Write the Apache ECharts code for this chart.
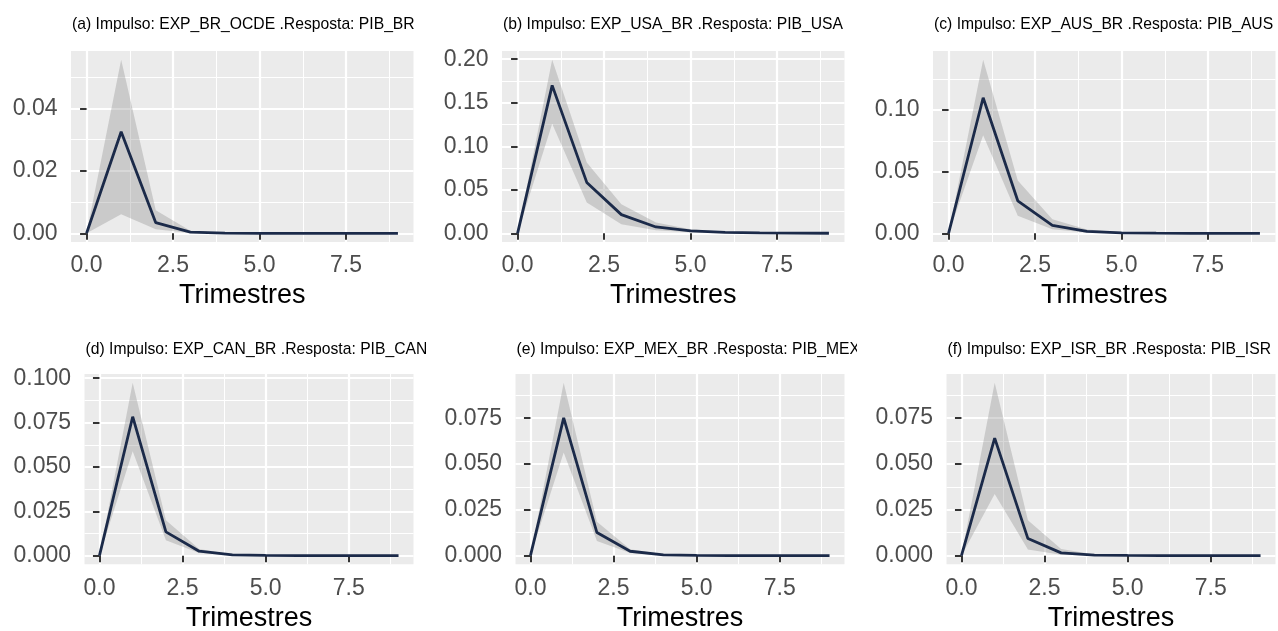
<!DOCTYPE html>
<html><head><meta charset="utf-8">
<script src="https://cdn.jsdelivr.net/npm/echarts@6/dist/echarts.min.js"></script>
<style>
html,body{margin:0;padding:0;background:#fff;width:1278px;height:631px;overflow:hidden}
.cell{position:absolute;overflow:hidden}
</style></head><body>
<div id="root"></div>
<script>
// ---------- data ----------
const horizons = [0, 1, 2, 3, 4, 5, 6, 7, 8, 9];
const xTicks = [0, 2.5, 5, 7.5];
const xMinorTicks = [1.25, 3.75, 6.25, 8.75];
const xAxisTitle = 'Trimestres';

const titles = [
  '(a) Impulso: EXP_BR_OCDE .Resposta: PIB_BR',
  '(b) Impulso: EXP_USA_BR .Resposta: PIB_USA',
  '(c) Impulso: EXP_AUS_BR .Resposta: PIB_AUS',
  '(d) Impulso: EXP_CAN_BR .Resposta: PIB_CAN',
  '(e) Impulso: EXP_MEX_BR .Resposta: PIB_MEX',
  '(f) Impulso: EXP_ISR_BR .Resposta: PIB_ISR'
];

const irfA   = [0, 0.0325, 0.0034, 0.0004, 0.00005, 0, 0, 0, 0, 0];
const lowerA = [0, 0.0061, 0.0013, 0.0001, 0, 0, 0, 0, 0, 0];
const upperA = [0, 0.0556, 0.0074, 0.0008, 0.0001, 0, 0, 0, 0, 0];

const irfB   = [0, 0.170, 0.0585, 0.0215, 0.0073, 0.0027, 0.0010, 0.0004, 0.00015, 0.00005];
const lowerB = [0, 0.126, 0.0354, 0.0104, 0.0035, 0.0012, 0.0004, 0.0001, 0.00005, 0];
const upperB = [0, 0.1995, 0.0815, 0.0335, 0.0123, 0.0046, 0.0017, 0.0006, 0.0002, 0.0001];

const irfC   = [0, 0.110, 0.0264, 0.0065, 0.0016, 0.0004, 0.0001, 0, 0, 0];
const lowerC = [0, 0.0796, 0.0142, 0.0033, 0.0006, 0.0001, 0, 0, 0, 0];
const upperC = [0, 0.1409, 0.0428, 0.0114, 0.0030, 0.0008, 0.0002, 0.0001, 0, 0];

const irfD   = [0, 0.0783, 0.0134, 0.0025, 0.0004, 0.0001, 0, 0, 0, 0];
const lowerD = [0, 0.0588, 0.0087, 0.0015, 0.0002, 0, 0, 0, 0, 0];
const upperD = [0, 0.0975, 0.0200, 0.0038, 0.0007, 0.0001, 0, 0, 0, 0];

const irfE   = [0, 0.0752, 0.0126, 0.0024, 0.0004, 0.0001, 0, 0, 0, 0];
const lowerE = [0, 0.0563, 0.0080, 0.0015, 0.0002, 0, 0, 0, 0, 0];
const upperE = [0, 0.0944, 0.0185, 0.0035, 0.0007, 0.0001, 0, 0, 0, 0];

const irfF   = [0, 0.0640, 0.0093, 0.0015, 0.0003, 0.0001, 0, 0, 0, 0];
const lowerF = [0, 0.0336, 0.0033, 0.0005, 0.0001, 0, 0, 0, 0, 0];
const upperF = [0, 0.0942, 0.0193, 0.0036, 0.0006, 0.0001, 0, 0, 0, 0];

const yTicksA = [0, 0.02, 0.04];            const yMinorA = [0.01, 0.03, 0.05];
const yTicksB = [0, 0.05, 0.10, 0.15, 0.20]; const yMinorB = [0.025, 0.075, 0.125, 0.175];
const yTicksC = [0, 0.05, 0.10];            const yMinorC = [0.025, 0.075, 0.125];
const yTicksD = [0, 0.025, 0.05, 0.075, 0.10]; const yMinorD = [0.0125, 0.0375, 0.0625, 0.0875];
const yTicksE = [0, 0.025, 0.05, 0.075];    const yMinorE = [0.0125, 0.0375, 0.0625, 0.0875];
const yTicksF = [0, 0.025, 0.05, 0.075];    const yMinorF = [0.0125, 0.0375, 0.0625, 0.0875];
const yDecimals = [2, 2, 2, 3, 3, 3];

// ---------- layout ----------
const FONT = '"Liberation Sans", Arial, Helvetica, sans-serif';
const cellLeft = [0, 431, 862];
const cellWidth = [426, 426, 416];
const rowTop = [0, 320];
const rowHeight = [320, 311];
const gridTop = [51, 54];
const gridHeight = [191, 190.3];
const titleTop = [17, 22];
const gridLeftRow = [71, 84.5];
const gridWidthRow = [342.5, 329];

const panels = [
  {irf: irfA, lo: lowerA, hi: upperA, yt: yTicksA, ym: yMinorA},
  {irf: irfB, lo: lowerB, hi: upperB, yt: yTicksB, ym: yMinorB},
  {irf: irfC, lo: lowerC, hi: upperC, yt: yTicksC, ym: yMinorC},
  {irf: irfD, lo: lowerD, hi: upperD, yt: yTicksD, ym: yMinorD},
  {irf: irfE, lo: lowerE, hi: upperE, yt: yTicksE, ym: yMinorE},
  {irf: irfF, lo: lowerF, hi: upperF, yt: yTicksF, ym: yMinorF}
];

function expand(vals) {
  const lo = Math.min.apply(null, vals), hi = Math.max.apply(null, vals);
  const pad = (hi - lo) * 0.05;
  return [lo - pad, hi + pad];
}

const root = document.getElementById('root');
panels.forEach(function (p, k) {
  const row = Math.floor(k / 3), col = k % 3;
  const div = document.createElement('div');
  div.className = 'cell';
  div.style.left = cellLeft[col] + 'px';
  div.style.top = rowTop[row] + 'px';
  div.style.width = cellWidth[col] + 'px';
  div.style.height = rowHeight[row] + 'px';
  root.appendChild(div);
  const chart = echarts.init(div, null, {renderer: 'canvas'});

  const xr = expand(horizons);
  const yr = expand(p.irf.concat(p.lo, p.hi));
  const dec = yDecimals[k];
  const gl = gridLeftRow[row];

  chart.setOption({
    animation: false,
    title: {
      text: titles[k], left: gl + 1, top: titleTop[row], padding: 0,
      textStyle: {fontFamily: FONT, fontSize: 15.7, fontWeight: 'normal', color: '#000'}
    },
    grid: {
      left: gl, top: gridTop[row], width: gridWidthRow[row], height: gridHeight[row],
      outerBoundsMode: 'none', containLabel: false,
      show: true, backgroundColor: '#EBEBEB', borderWidth: 0
    },
    xAxis: [
      {
        type: 'value', min: xr[0], max: xr[1],
        name: xAxisTitle, nameLocation: 'middle', nameGap: 40,
        nameTextStyle: {fontFamily: FONT, fontSize: 27, color: '#000'},
        axisLine: {show: false},
        axisTick: {show: true, customValues: xTicks, length: 6.5, lineStyle: {color: '#333333', width: 2}},
        axisLabel: {customValues: xTicks, formatter: function (v) { return v.toFixed(1); },
          fontFamily: FONT, fontSize: 23, color: '#4D4D4D', margin: 12.5},
        splitLine: {show: true, lineStyle: {color: '#FFFFFF', width: 2.2}}
      },
      {
        type: 'value', min: xr[0], max: xr[1], position: 'bottom',
        axisLine: {show: false}, axisLabel: {show: false},
        axisTick: {show: false, customValues: xMinorTicks},
        splitLine: {show: true, lineStyle: {color: '#FFFFFF', width: 1.1}}
      }
    ],
    yAxis: [
      {
        type: 'value', min: yr[0], max: yr[1],
        axisLine: {show: false},
        axisTick: {show: true, customValues: p.yt, length: 6.5, lineStyle: {color: '#333333', width: 2}},
        axisLabel: {customValues: p.yt, formatter: function (v) { return v.toFixed(dec); },
          fontFamily: FONT, fontSize: 23, color: '#4D4D4D', margin: 13.5},
        splitLine: {show: true, lineStyle: {color: '#FFFFFF', width: 2.2}}
      },
      {
        type: 'value', min: yr[0], max: yr[1], position: 'left',
        axisLine: {show: false}, axisLabel: {show: false},
        axisTick: {show: false, customValues: p.ym},
        splitLine: {show: true, lineStyle: {color: '#FFFFFF', width: 1.1}}
      }
    ],
    series: [
      {
        type: 'custom', name: 'band', silent: true, z: 1,
        xAxisIndex: 0, yAxisIndex: 0,
        data: horizons.map(function (h, i) { return [h, p.lo[i], p.hi[i]]; }),
        encode: {x: 0, y: [1, 2]},
        renderItem: function (params, api) {
          if (params.dataIndex !== 0) return null;
          const up = [], dn = [];
          for (let i = 0; i < horizons.length; i++) {
            up.push(api.coord([horizons[i], p.hi[i]]));
            dn.push(api.coord([horizons[i], p.lo[i]]));
          }
          return {
            type: 'polygon',
            shape: {points: up.concat(dn.reverse())},
            style: {fill: 'rgba(127,127,127,0.3)'}
          };
        }
      },
      {
        type: 'line', name: 'irf', symbol: 'none', z: 3,
        xAxisIndex: 0, yAxisIndex: 0,
        data: horizons.map(function (h, i) { return [h, p.irf[i]]; }),
        lineStyle: {color: '#1B2A49', width: 2.8}
      }
    ]
  });
});
</script>
</body></html>
